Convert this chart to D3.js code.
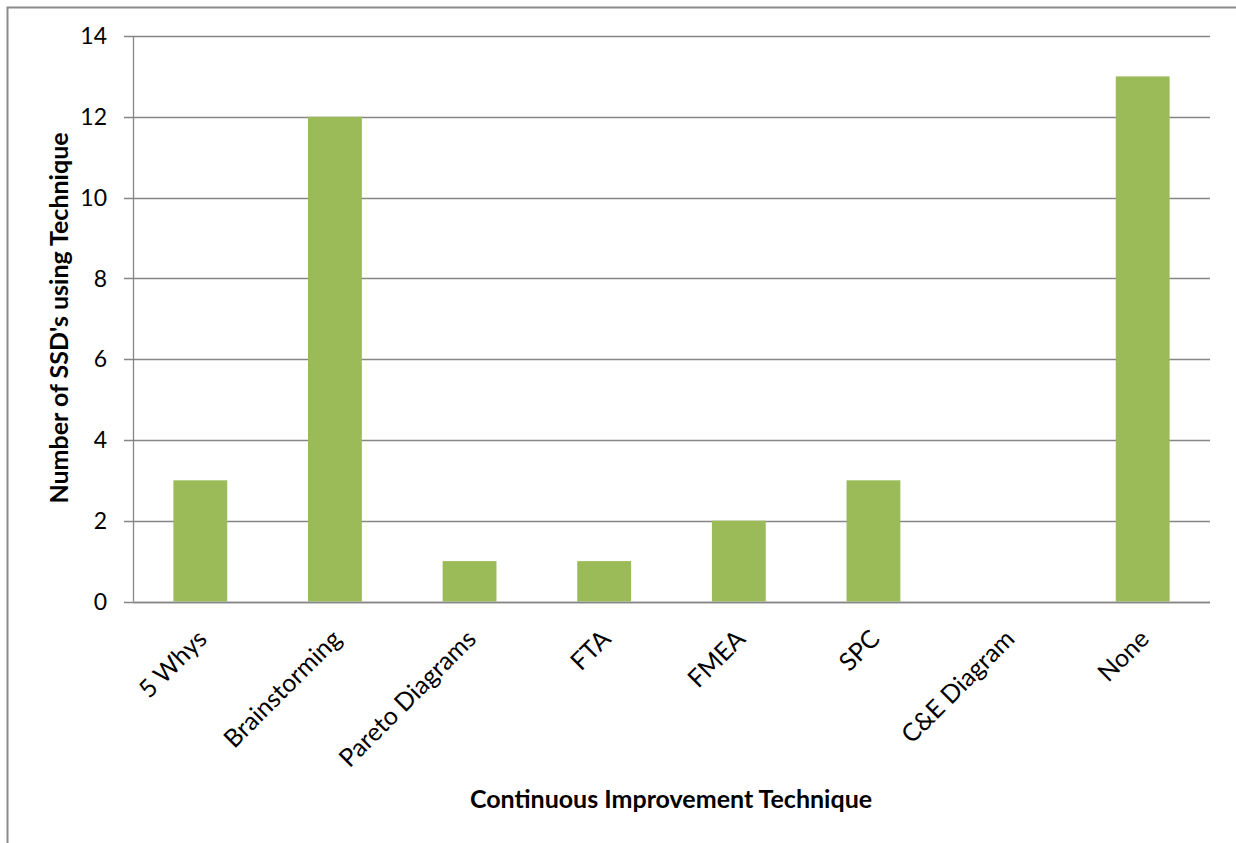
<!DOCTYPE html>
<html>
<head>
<meta charset="utf-8">
<script src="https://cdn.jsdelivr.net/npm/d3@7"></script>
<style>
  html, body { margin: 0; padding: 0; background: #fff; }
  svg { display: block; }
  text { font-family: Lato, "Noto Sans", sans-serif; fill: #000; }
</style>
</head>
<body>
<svg id="chart" width="1236" height="843"></svg>
<script>
// Survey counts per continuous improvement technique
const categories = ["5 Whys", "Brainstorming", "Pareto Diagrams", "FTA", "FMEA", "SPC", "C&E Diagram", "None"];
const counts = [3, 12, 1, 1, 2, 3, 0, 13];
const yTicks = [0, 2, 4, 6, 8, 10, 12, 14];

const svg = d3.select("#chart");
const W = 1236, H = 843;
const plot = { left: 133, right: 1210, top: 36, bottom: 601.5 };

// Outer chart frame
svg.append("rect")
  .attr("x", 7.5).attr("y", 7.5)
  .attr("width", W + 10).attr("height", H + 10)
  .attr("fill", "none").attr("stroke", "#8c8c8c").attr("stroke-width", 2);

const x = d3.scaleBand()
  .domain(categories)
  .range([plot.left, plot.right])
  .paddingInner(0.6)
  .paddingOuter(0.3);

const y = d3.scaleLinear()
  .domain([0, 14])
  .range([plot.bottom, plot.top]);

// Horizontal gridlines with short outward ticks
svg.append("g")
  .selectAll("line")
  .data(yTicks)
  .join("line")
  .attr("x1", plot.left - 9)
  .attr("x2", plot.right)
  .attr("y1", d => Math.round(y(d)) + 0.5)
  .attr("y2", d => Math.round(y(d)) + 0.5)
  .attr("stroke", "#868686")
  .attr("stroke-width", 1.3);

// Y axis line
svg.append("line")
  .attr("x1", plot.left + 0.5).attr("x2", plot.left + 0.5)
  .attr("y1", plot.top).attr("y2", plot.bottom)
  .attr("stroke", "#868686").attr("stroke-width", 1.3);

// Y tick labels
svg.append("g")
  .selectAll("text")
  .data(yTicks)
  .join("text")
  .attr("x", 107)
  .attr("y", d => y(d))
  .attr("dy", "0.36em")
  .attr("text-anchor", "end")
  .style("font-size", "23px")
  .text(d => d);

// Bars
svg.append("g")
  .selectAll("rect")
  .data(categories.map((c, i) => ({ c, v: counts[i] })))
  .join("rect")
  .attr("x", d => x(d.c))
  .attr("width", x.bandwidth())
  .attr("y", d => y(d.v))
  .attr("height", d => y(0) - y(d.v))
  .attr("fill", "#9bbb59");

// Baseline drawn over bars
svg.append("line")
  .attr("x1", plot.left).attr("x2", plot.right)
  .attr("y1", Math.round(y(0)) + 0.5).attr("y2", Math.round(y(0)) + 0.5)
  .attr("stroke", "#868686").attr("stroke-width", 1.6);

// Rotated category labels
svg.append("g")
  .selectAll("text")
  .data(categories)
  .join("text")
  .attr("text-anchor", "end")
  .attr("transform", d => `translate(${x(d) + x.bandwidth() / 2 + 8},${plot.bottom + 39}) rotate(-45)`)
  .style("font-size", "25px")
  .text(d => d);

// Axis titles
svg.append("text")
  .attr("x", 671)
  .attr("y", 808)
  .attr("text-anchor", "middle")
  .style("font-size", "25px")
  .style("font-weight", "bold")
  .text("Continuous Improvement Technique");

svg.append("text")
  .attr("transform", `translate(68,318) rotate(-90)`)
  .attr("text-anchor", "middle")
  .style("font-size", "25px")
  .style("font-weight", "bold")
  .text("Number of SSD's using Technique");
</script>
</body>
</html>
